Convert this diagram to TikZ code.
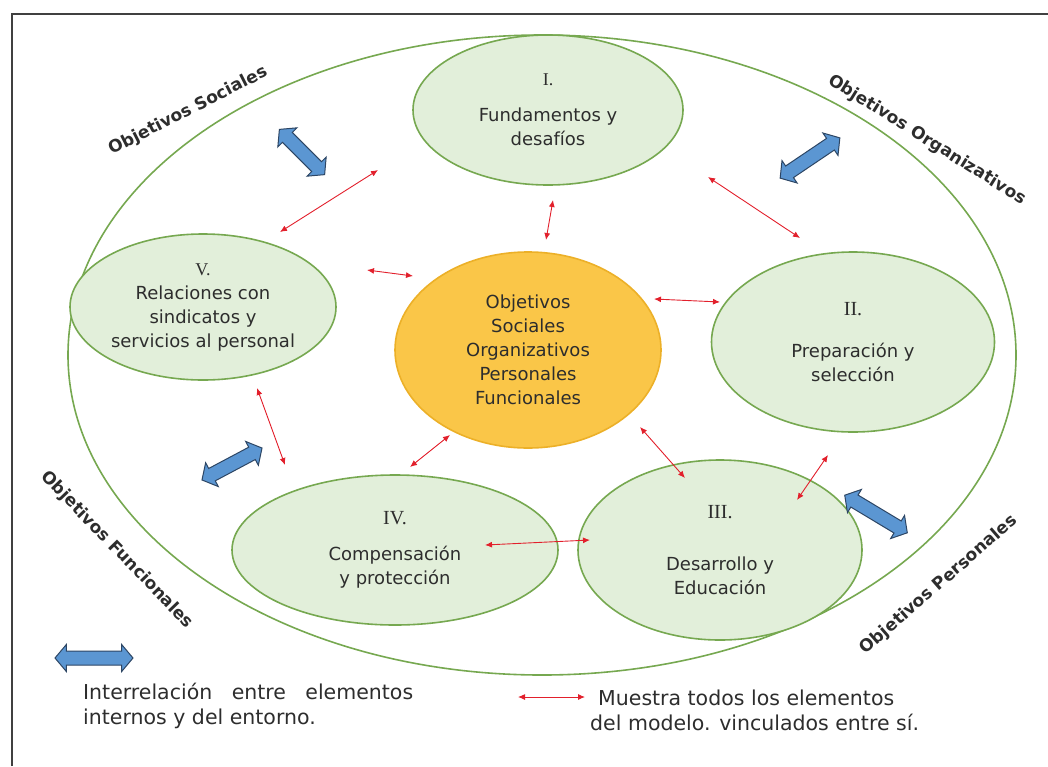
\documentclass[tikz,border=0pt]{standalone}
\usepackage{fontspec}
\setmainfont{DejaVu Sans}
\newfontfamily\numfont{Liberation Serif}
\usetikzlibrary{shapes.geometric,shapes.arrows,arrows.meta}
\definecolor{leafgreen}{RGB}{226,239,218}
\definecolor{rimgreen}{RGB}{118,168,80}
\definecolor{coreorange}{RGB}{250,198,72}
\definecolor{corerim}{RGB}{236,176,40}
\definecolor{linkred}{RGB}{226,32,44}
\definecolor{flowblue}{RGB}{91,150,210}
\definecolor{flowrim}{RGB}{45,70,100}
\definecolor{inkgray}{RGB}{45,45,45}

\begin{document}
\begin{tikzpicture}[x=1pt, y=-1pt,
  area/.style={ellipse, draw=rimgreen, line width=1.6pt, fill=leafgreen, inner sep=0pt,
    align=center, text=inkgray, font=\fontsize{18}{24}\selectfont},
  core/.style={area, draw=corerim, fill=coreorange},
  link/.style={linkred, line width=0.9pt, {Latex[length=7pt,width=6pt]}-{Latex[length=7pt,width=6pt]}},
  flow/.style={double arrow, draw=flowrim, line width=1pt, fill=flowblue, inner sep=0pt,
    text height=6.5pt, text depth=6.5pt, minimum width=0pt,
    double arrow head extend=6.5pt, double arrow tip angle=100},
  goal/.style={text=inkgray, font=\fontsize{17}{18}\selectfont\bfseries},
  note/.style={text=inkgray, align=left, font=\fontsize{20.5}{25}\selectfont}]
\useasboundingbox (0,0) rectangle (1048,766);
\draw [line width=2.5pt, black!75] (12,766) -- (12,14) -- (1048,14);

% outer ring
\node [ellipse, draw=rimgreen, line width=1.6pt, inner sep=0pt,
  minimum width=948pt, minimum height=640pt] (rim) at (542,355) {};

% the five areas and the core
\node [area, minimum width=270pt, minimum height=150pt] (fund) at (548,110)
  {{\numfont I.}\\[12pt]Fundamentos y\\desafíos};
\node [area, minimum width=266pt, minimum height=146pt] (rel) at (203,307)
  {{\numfont V.}\\Relaciones con\\sindicatos y\\servicios al personal};
\node [core, minimum width=266pt, minimum height=196pt] (obj) at (528,350)
  {Objetivos\\Sociales\\Organizativos\\Personales\\Funcionales};
\node [area, minimum width=283pt, minimum height=180pt] (prep) at (853,342)
  {{\numfont\fontsize{20}{24}\selectfont II.}\\[18pt]Preparación y\\selección};
\node [area, minimum width=326pt, minimum height=150pt] (comp) at (395,550)
  {{\numfont\fontsize{20}{24}\selectfont IV.}\\[12pt]Compensación\\y protección};
\node [area, minimum width=284pt, minimum height=180pt] (desa) at (720,550)
  {{\numfont\fontsize{20}{24}\selectfont III.}\\[28pt]Desarrollo y\\Educación};

% red links
\coordinate (l1a) at (280,232);  \coordinate (l1b) at (378,170);
\coordinate (l2a) at (553,200);  \coordinate (l2b) at (546,240);
\coordinate (l3a) at (708,177);  \coordinate (l3b) at (800,238);
\coordinate (l4a) at (367,270);  \coordinate (l4b) at (413,276);
\coordinate (l5a) at (654,299);  \coordinate (l5b) at (720,302);
\coordinate (l6a) at (257,388);  \coordinate (l6b) at (285,465);
\coordinate (l7a) at (450,435);  \coordinate (l7b) at (410,467);
\coordinate (l8a) at (640,427);  \coordinate (l8b) at (685,478);
\coordinate (l9a) at (828,455);  \coordinate (l9b) at (797,500);
\coordinate (l10a) at (485,545); \coordinate (l10b) at (590,540);
\foreach \k in {1,...,10}
  \draw [link] (l\k a) -- (l\k b);

% blue interrelations
\node [flow, minimum height=64pt, rotate=-45] (fsoc) at (302,152) {};
\node [flow, minimum height=72pt, rotate=34] (forg) at (810,158) {};
\node [flow, minimum height=68pt, rotate=28] (ffun) at (232,464) {};
\node [flow, minimum height=73pt, rotate=-31] (fper) at (876,514) {};

% objectives round the ring
\node [goal, rotate=27] (soc) at (188,111) {Objetivos Sociales};
\node [goal, rotate=-32] (org) at (927,140) {Objetivos Organizativos};
\node [goal, rotate=-46] (fun) at (117,550) {Objetivos Funcionales};
\node [goal, rotate=41] (per) at (939,585) {Objetivos Personales};

% legend
\node [flow, minimum height=78pt] (fkey) at (94,658) {};
\node [note, anchor=west, inner sep=0pt] (keyflow) at (83,706)
  {\makebox[330pt][s]{Interrelación entre elementos}\\internos y del entorno.};
\coordinate (lka) at (518,697); \coordinate (lkb) at (585,697);
\draw [link] (lka) -- (lkb);
\node [note, anchor=west, inner sep=0pt] (keylink) at (590,710)
  {\hspace*{8pt}Muestra todos los elementos\\del modelo. vinculados entre sí.};
\end{tikzpicture}
\end{document}
